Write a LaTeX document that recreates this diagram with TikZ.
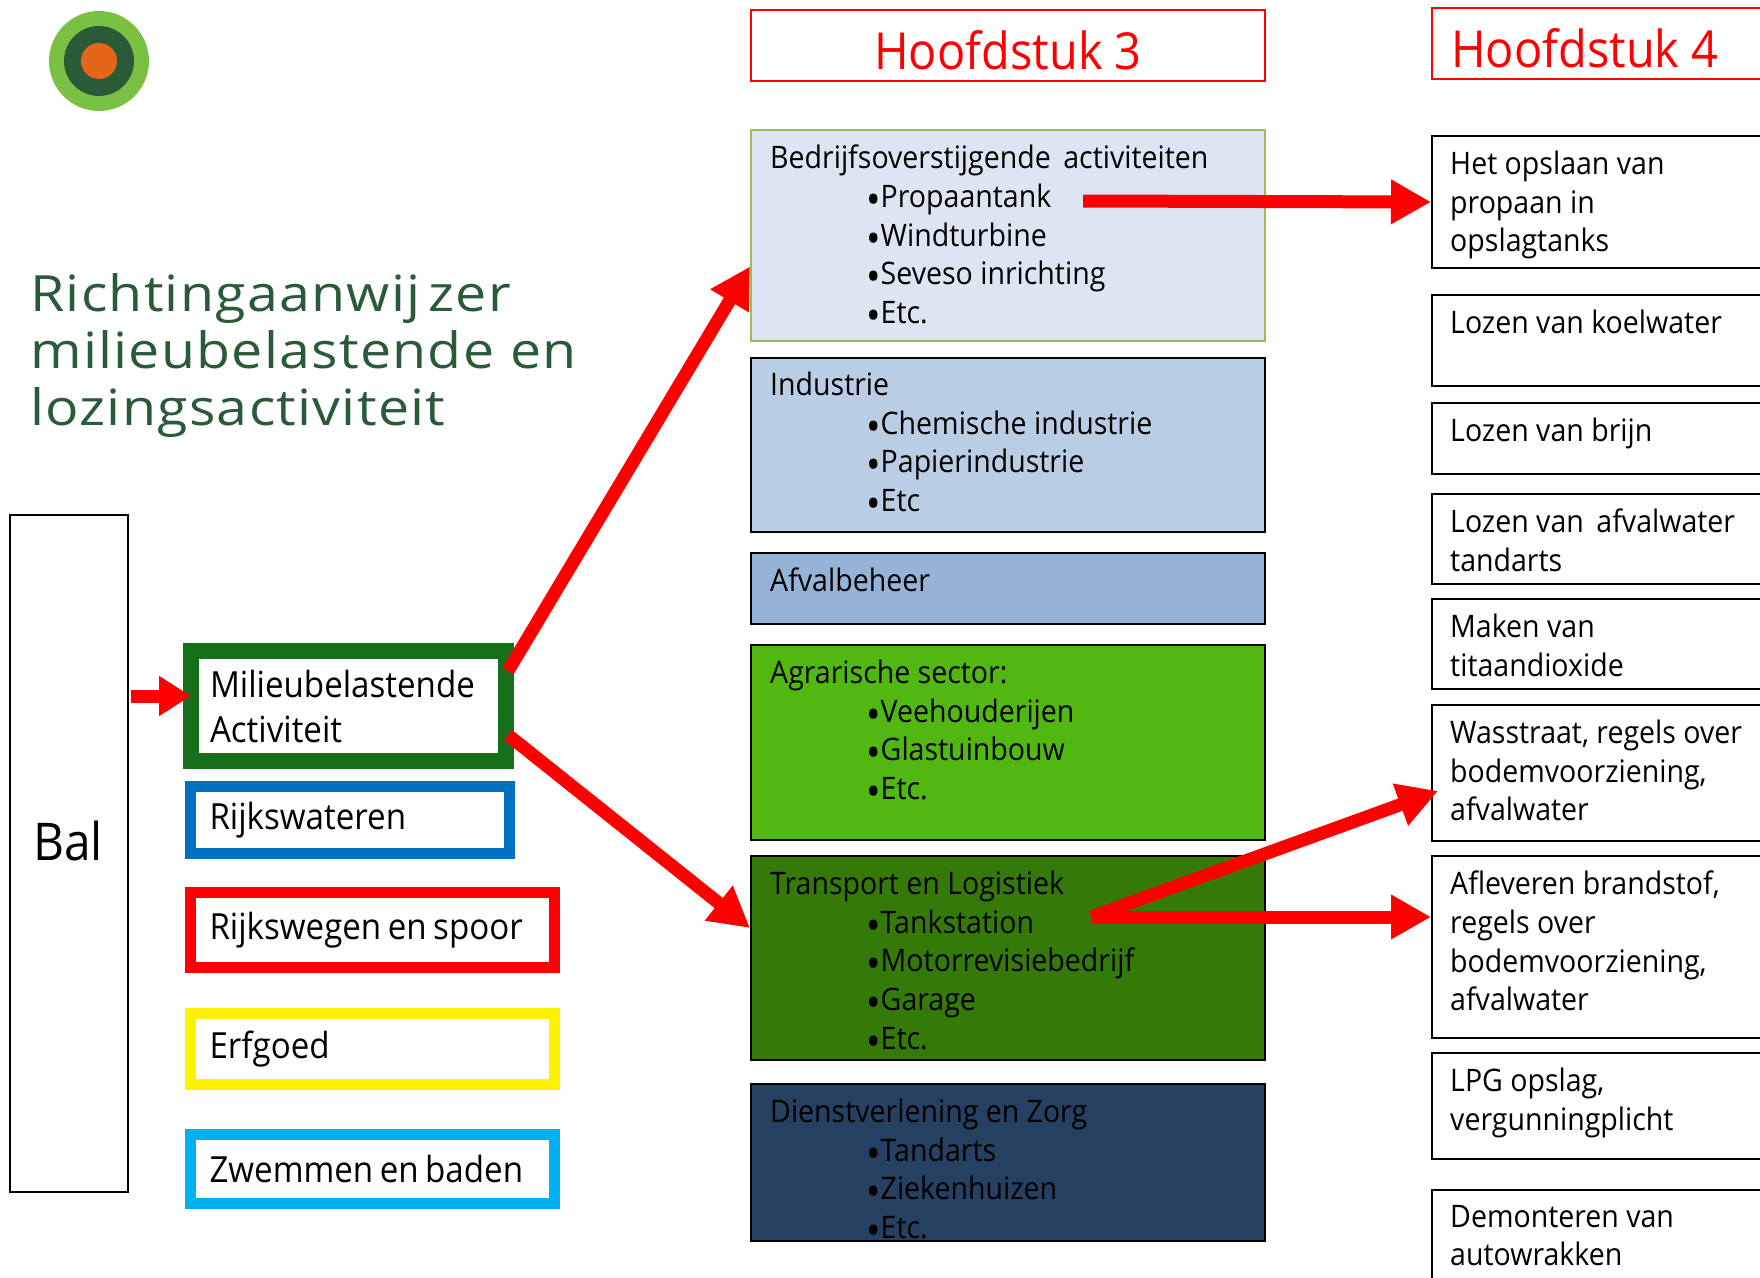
\documentclass[tikz,border=0pt]{standalone}
\usepackage{fontspec}
\setmainfont[FakeStretch=0.92]{Open Sans}
\newfontfamily\titlefont[FakeStretch=1.11,LetterSpace=2.5]{Open Sans}
\usetikzlibrary{arrows.meta}
\definecolor{titlegreen}{HTML}{2A5A38}
\definecolor{logolight}{HTML}{7AC143}
\definecolor{logoorange}{HTML}{E3661B}
\definecolor{milieugreen}{HTML}{166F1B}
\definecolor{waterblue}{HTML}{0070C0}
\definecolor{baadblue}{HTML}{00B0F0}
\definecolor{bedrijfline}{HTML}{9BBB59}
\definecolor{bedrijffill}{HTML}{DCE6F2}
\definecolor{industriefill}{HTML}{B9CDE5}
\definecolor{afvalfill}{HTML}{95B3D7}
\definecolor{agrarfill}{HTML}{50B810}
\definecolor{transportfill}{HTML}{357A08}
\definecolor{dienstfill}{HTML}{254061}
\tikzset{
  catbox/.style={draw=black,line width=2pt,anchor=north west,minimum width=514pt,inner sep=0pt},
  listtext/.style={anchor=north west,align=left,inner sep=0pt,font=\fontsize{31}{38.6}\selectfont},
  headbox/.style={draw=red,line width=2pt,anchor=north west,minimum height=71pt,inner sep=0pt},
  headtext/.style={inner sep=0pt,text=red,font=\fontsize{51}{60}\selectfont},
  sidebox/.style={draw,line width=2pt,anchor=north west,minimum width=400pt,inner sep=0pt},
  bigarrow/.style={draw=red,line width=13pt,-{Triangle[length=40pt,width=42pt]}},
}
\newcommand{\bul}[1]{\hspace*{96pt}\raisebox{-0.42ex}{\smash{\fontsize{42}{38}\selectfont\textbullet}}#1}
\begin{document}
\begin{tikzpicture}[x=1pt,y=-1pt]
\useasboundingbox (0,0) rectangle (1760,1277);
\clip (0,0) rectangle (1760,1277);

% logo
\fill[logolight] (99,61) circle (50);
\fill[titlegreen] (99,61) circle (35);
\fill[logoorange] (99,61) circle (18);

\node[anchor=north west,align=left,inner sep=0pt,text=titlegreen,font=\titlefont\fontsize{50}{57}\selectfont] (title)
  at (30,273) {Richtingaanwij\,zer\\milieubelastende en\\lozingsactiviteit};

% left column
\node[draw,line width=2pt,anchor=north west,minimum width=118pt,minimum height=677pt,inner sep=0pt] (bal) at (9,514) {};
\node[font=\fontsize{52}{60}\selectfont,inner sep=0pt] (baltext) at (68,841) {Bal};

\foreach \nm/\cx/\cy/\w/\h/\lw/\col/\txt in {
  milieu/348.5/706/315/110/16/milieugreen/{Milieubelastende\\Activiteit},
  wateren/350/820/319/67/11/waterblue/{Rijkswateren},
  wegen/372.5/930/364/75/11/red/{Rijkswegen en spoor},
  erfgoed/372.5/1049/364/71/11/yellow/{Erfgoed},
  zwemmen/372.5/1169/364/69/11/baadblue/{Zwemmen en baden}}
  \node[draw=\col,fill=white,line width=\lw pt,minimum width=\w pt,minimum height=\h pt,
        inner xsep=19pt,inner ysep=0pt,text width={(\w-38)*1pt},align=left,font=\fontsize{36}{45}\selectfont,
        execute at begin node={\spaceskip=6.5pt\relax}] (\nm) at (\cx,\cy) {\txt};

% hoofdstuk 3
\node[headbox,minimum width=514pt] (kop3) at (750,9) {};
\node[headtext] (kop3text) at ([yshift=-5pt]kop3.center) {Hoofdstuk 3};
\node[catbox,draw=bedrijfline,fill=bedrijffill,minimum height=211pt] (bedrijf) at (750,129) {};
\node[listtext] (bedrijftext) at (770,145) {Bedrijfsoverstijgende\, activiteiten\\\bul{Propaantank}\\\bul{Windturbine}\\\bul{Seveso inrichting}\\\bul{Etc.}};
\node[catbox,fill=industriefill,minimum height=174pt] (industrie) at (750,357) {};
\node[listtext] (industrietext) at (770,372) {Industrie\\\bul{Chemische industrie}\\\bul{Papierindustrie}\\\bul{Etc}};
\node[catbox,fill=afvalfill,minimum height=71pt] (afval) at (750,552) {};
\node[listtext] (afvaltext) at (770,568) {Afvalbeheer};
\node[catbox,fill=agrarfill,minimum height=195pt] (agrar) at (750,644) {};
\node[listtext] (agrartext) at (770,660) {Agrarische sector:\\\bul{Veehouderijen}\\\bul{Glastuinbouw}\\\bul{Etc.}};
\node[catbox,fill=transportfill,minimum height=204pt] (transport) at (750,855) {};
\node[listtext] (transporttext) at (770,871) {Transport en Logistiek\\\bul{Tankstation}\\\bul{Motorrevisiebedrijf}\\\bul{Garage}\\\bul{Etc.}};
\node[catbox,fill=dienstfill,minimum height=157pt] (dienst) at (750,1083) {};
\node[listtext] (diensttext) at (770,1099) {Dienstverlening en Zorg\\\bul{Tandarts}\\\bul{Ziekenhuizen}\\\bul{Etc.}};

% hoofdstuk 4
\node[headbox,minimum width=515pt] (kop4) at (1431,7) {};
\node[headtext,anchor=north west] (kop4text) at (1451,28) {Hoofdstuk 4};

\foreach \nm/\y/\h/\txt in {
  opslaan/135/132/{Het opslaan van\\propaan in\\opslagtanks},
  koelwater/294/91/{Lozen van koelwater},
  brijn/402/71/{Lozen van brijn},
  tandarts/493/90/{Lozen van\, afvalwater\\tandarts},
  titaan/598/90/{Maken van\\titaandioxide},
  wasstraat/704/136/{Wasstraat, regels over\\bodemvoorziening,\\afvalwater},
  afleveren/855/182/{Afleveren brandstof,\\regels over\\bodemvoorziening,\\afvalwater},
  lpg/1052/106/{LPG opslag,\\vergunningplicht},
  wrakken/1189/140/{Demonteren van\\autowrakken}}
  {
  \node[sidebox,minimum height=\h pt] (\nm) at (1431,\y) {};
  \node[listtext] (\nm text) at (1450,\y+16) {\txt};
  }

% arrows
\coordinate (propaan) at (1083,201);
\coordinate (tank) at (1091,917);
\coordinate (wastip) at (1438,791);
\draw[bigarrow,-{Triangle[length=32pt,width=38pt]}] (131,696) -- ([xshift=8pt,yshift=10pt]milieu.west);
\draw[bigarrow] ([xshift=-6pt,yshift=35pt]milieu.east) -- ([yshift=-31pt]bedrijf.west);
\draw[bigarrow] ([xshift=-6pt,yshift=-29pt]milieu.east) -- ([yshift=30pt]transport.west);
\draw[bigarrow] (propaan) -- (opslaan.west);
\draw[bigarrow] (tank) -- (wastip);
\draw[bigarrow] (tank) -- (tank -| afleveren.west);
\end{tikzpicture}
\end{document}
